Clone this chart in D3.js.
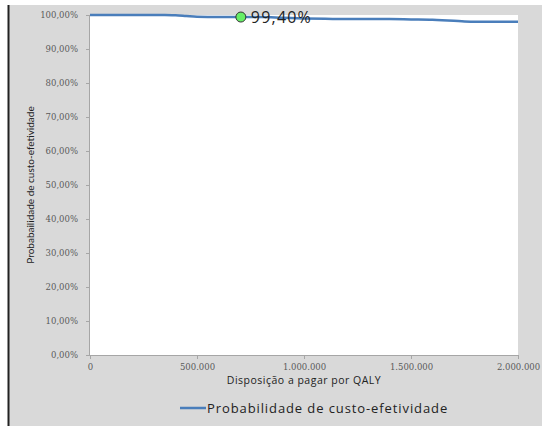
<!DOCTYPE html>
<meta charset="utf-8">
<style>
body { margin: 0; background: #fff; }
text { font-family: "Open Sans", Lato, sans-serif; }
</style>
<body>
<script src="https://cdn.jsdelivr.net/npm/d3@7"></script>
<script>
var wtp = [0, 100000, 200000, 300000, 350000, 400000, 450000, 500000, 600000, 700000, 800000, 900000, 1000000, 1100000, 1200000, 1300000, 1400000, 1500000, 1600000, 1700000, 1750000, 1800000, 1900000, 2000000];
var prob = [1.000, 1.000, 1.000, 1.000, 1.000, 0.999, 0.997, 0.995, 0.994, 0.994, 0.994, 0.992, 0.990, 0.989, 0.988, 0.988, 0.988, 0.987, 0.986, 0.983, 0.981, 0.980, 0.980, 0.980];
var xTicks = [0, 500000, 1000000, 1500000, 2000000];
var yTicks = [0, 0.1, 0.2, 0.3, 0.4, 0.5, 0.6, 0.7, 0.8, 0.9, 1.0];
var marker = {x: 705000, y: 0.994, label: "99,40%"};
var seriesName = "Probabilidade de custo-efetividade";

var width = 542, height = 426,
	pLeft = 90, pRight = 518, pTop = 15, pBottom = 355;

var svg = d3.select("body").append("svg")
	.attr("width", width)
	.attr("height", height);

// grey chart background with dark left edge
svg.append("rect")
	.attr("x", 9).attr("y", 5)
	.attr("width", width - 9).attr("height", height - 5)
	.style("fill", "#d9d9d9");
svg.append("line")
	.attr("x1", 8.5).attr("x2", 8.5)
	.attr("y1", 5).attr("y2", height)
	.style("stroke", "#222")
	.style("stroke-width", 2);

var x = d3.scaleLinear().domain([0, 2000000]).range([pLeft, pRight]);
var y = d3.scaleLinear().domain([0, 1]).range([pBottom, pTop]);

svg.append("rect")
	.attr("x", pLeft).attr("y", pTop)
	.attr("width", pRight - pLeft).attr("height", pBottom - pTop)
	.style("fill", "#fff");

var fmtX = function(d) { return d3.format(",")(d).replace(/,/g, "."); };
var fmtY = function(d) { return d3.format(".2f")(d * 100).replace(".", ",") + "%"; };

var xAxis = svg.append("g")
	.attr("transform", "translate(0," + pBottom + ")")
	.call(d3.axisBottom(x).tickValues(xTicks).tickFormat(fmtX).tickSize(4).tickPadding(5));
var yAxis = svg.append("g")
	.attr("transform", "translate(" + pLeft + ",0)")
	.call(d3.axisLeft(y).tickValues(yTicks).tickFormat(fmtY).tickSize(4).tickPadding(8));

[xAxis, yAxis].forEach(function(g) {
	g.selectAll("path, line").style("stroke", "#a6a6a6");
	g.selectAll("text").style("fill", "#595959").style("font-size", "8.5px")
		.style("font-family", "'DejaVu Serif', serif");
});
xAxis.select("path").attr("d", "M" + pLeft + ",0.5H" + pRight);
yAxis.select("path").attr("d", "M-0.5," + pTop + "V" + pBottom);

var line = d3.line()
	.x(function(d, i) { return x(wtp[i]); })
	.y(function(d) { return y(d); })
	.curve(d3.curveMonotoneX);

svg.append("path")
	.datum(prob)
	.attr("d", line)
	.style("fill", "none")
	.style("stroke", "#4a7ebb")
	.style("stroke-width", 2.5);

svg.append("circle")
	.attr("cx", x(marker.x))
	.attr("cy", y(marker.y))
	.attr("r", 5)
	.style("fill", "#66ee66")
	.style("stroke", "#333")
	.style("stroke-width", 1);

svg.append("text")
	.attr("x", x(marker.x) + 10)
	.attr("y", y(marker.y) + 6)
	.style("font-size", "16px")
	.style("letter-spacing", "1.2px")
	.style("fill", "#222")
	.text(marker.label);

svg.append("text")
	.attr("x", (pLeft + pRight) / 2)
	.attr("y", 384)
	.attr("text-anchor", "middle")
	.style("font-size", "10.5px")
	.style("letter-spacing", "0.5px")
	.style("fill", "#222")
	.text("Disposição a pagar por QALY");

svg.append("text")
	.attr("transform", "translate(34," + ((pTop + pBottom) / 2) + ")rotate(-90)")
	.attr("text-anchor", "middle")
	.style("font-size", "10px")
	.style("font-family", "Lato, sans-serif")
	.style("fill", "#222")
	.text("Probabailidade de custo-efetividade");

svg.append("line")
	.attr("x1", 180).attr("x2", 206)
	.attr("y1", 408).attr("y2", 408)
	.style("stroke", "#4a7ebb")
	.style("stroke-width", 2.5);
svg.append("text")
	.attr("x", 207)
	.attr("y", 412.5)
	.style("font-size", "13px")
	.style("letter-spacing", "0.9px")
	.style("fill", "#222")
	.text(seriesName);
</script>
</body>
